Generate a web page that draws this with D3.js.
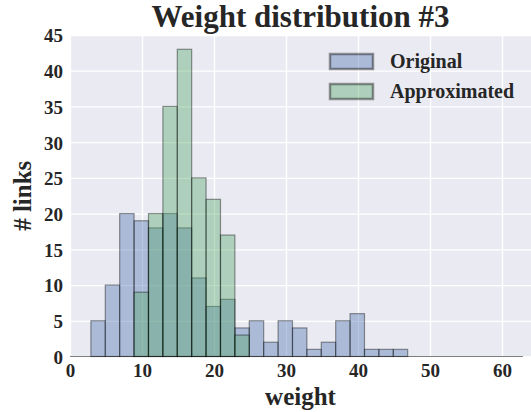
<!DOCTYPE html>
<html>
<head>
<meta charset="utf-8">
<script src="https://cdn.jsdelivr.net/npm/d3@7"></script>
<style>
  html, body { margin: 0; padding: 0; background: #fff; }
  svg { display: block; font-family: "Liberation Serif", "Times New Roman", serif; }
  .tick text { font-family: "Liberation Serif", "Times New Roman", serif !important; font-size: 19px; font-weight: bold; fill: #262626; }
  .tick line { stroke: #fff; stroke-width: 1.3; }
</style>
</head>
<body>
<svg width="531" height="412"></svg>
<script>
const svg = d3.select('svg');

// histogram bins: first edge and bin width (weight units)
const binStart = 2.9;
const binWidth = 2.0;
// counts per bin (22 bins, 2.9 .. 47)
const originalCounts = [5, 10, 20, 19, 18, 20, 18, 11, 7, 8, 4, 5, 2, 5, 4, 1, 2, 5, 6, 1, 1, 1];
const approxCounts   = [0, 0, 0, 9, 20, 35, 43, 25, 22, 17, 3, 0, 0, 0, 0, 0, 0, 0, 0, 0, 0, 0];
const seriesNames = ['Original', 'Approximated'];
const seriesColors = ['#4C72B0', '#55A868'];
const xTicks = [0, 10, 20, 30, 40, 50, 60];
const yTicks = [0, 5, 10, 15, 20, 25, 30, 35, 40, 45];

const margin = { top: 35, right: 0, bottom: 55, left: 70 };
const width = 531, height = 412;
const innerWidth = width - margin.left - margin.right;
const innerHeight = height - margin.top - margin.bottom - 0.5;
const fontFamily = '"Liberation Serif", "Times New Roman", serif';

const xScale = d3.scaleLinear()
  .domain([0, 60])
  .range([0, 432]);

const yScale = d3.scaleLinear()
  .domain([0, 45])
  .range([innerHeight, 0]);

const g = svg.append('g')
  .attr('transform', `translate(${margin.left},${margin.top})`);

g.append('rect')
  .attr('width', innerWidth)
  .attr('height', innerHeight)
  .attr('fill', '#EAEAF2');

const xAxis = d3.axisBottom(xScale)
  .tickValues(xTicks)
  .tickSize(-innerHeight)
  .tickPadding(6);

const yAxis = d3.axisLeft(yScale)
  .tickValues(yTicks)
  .tickSize(-innerWidth)
  .tickPadding(7);

const xAxisG = g.append('g')
  .attr('transform', `translate(0,${innerHeight})`)
  .call(xAxis)
  .attr('font-family', fontFamily);
xAxisG.select('.domain').remove();
xAxisG.selectAll('.tick text').attr('dy', '0.78em');

const yAxisG = g.append('g')
  .call(yAxis)
  .attr('font-family', fontFamily);
yAxisG.select('.domain').remove();
yAxisG.selectAll('.tick text').attr('dy', '0.36em');

// histograms
const makeBins = counts => counts.map((c, i) => ({
  x0: binStart + i * binWidth,
  x1: binStart + (i + 1) * binWidth,
  count: c
})).filter(d => d.count > 0);

[originalCounts, approxCounts].forEach((counts, k) => {
  g.append('g').selectAll('rect')
    .data(makeBins(counts))
    .enter().append('rect')
      .attr('x', d => xScale(d.x0))
      .attr('y', d => yScale(d.count))
      .attr('width', d => xScale(d.x1) - xScale(d.x0))
      .attr('height', d => yScale(0) - yScale(d.count))
      .attr('fill', seriesColors[k])
      .attr('fill-opacity', 0.4)
      .attr('stroke', '#000')
      .attr('stroke-opacity', 0.4)
      .attr('stroke-width', 1.2);
});

// baseline
g.append('line')
  .attr('x1', xScale(0))
  .attr('x2', xScale(62.9))
  .attr('y1', yScale(0))
  .attr('y2', yScale(0))
  .attr('stroke', '#000')
  .attr('stroke-opacity', 0.5)
  .attr('stroke-width', 1.2);

// legend
const legend = svg.append('g')
  .attr('transform', 'translate(330,54)');
seriesNames.forEach((name, i) => {
  legend.append('rect')
    .attr('x', 0)
    .attr('y', i * 30)
    .attr('width', 43)
    .attr('height', 15)
    .attr('fill', seriesColors[i])
    .attr('fill-opacity', 0.4)
    .attr('stroke', '#000')
    .attr('stroke-opacity', 0.4)
    .attr('stroke-width', 2.5);
  legend.append('text')
    .attr('x', 60)
    .attr('y', i * 30 + 14)
    .attr('font-size', 20)
    .attr('font-weight', 'bold')
    .attr('fill', '#262626')
    .text(name);
});

// title and axis labels
svg.append('text')
  .attr('x', margin.left + innerWidth / 2)
  .attr('y', 27)
  .attr('text-anchor', 'middle')
  .attr('font-size', 31)
  .attr('font-weight', 'bold')
  .attr('fill', '#262626')
  .text('Weight distribution #3');

svg.append('text')
  .attr('x', margin.left + innerWidth / 2)
  .attr('y', 405)
  .attr('text-anchor', 'middle')
  .attr('font-size', 25)
  .attr('font-weight', 'bold')
  .attr('fill', '#262626')
  .text('weight');

svg.append('text')
  .attr('transform', `translate(31,${margin.top + innerHeight / 2}) rotate(-90)`)
  .attr('text-anchor', 'middle')
  .attr('font-size', 25)
  .attr('font-weight', 'bold')
  .attr('fill', '#262626')
  .text('# links');
</script>
</body>
</html>
